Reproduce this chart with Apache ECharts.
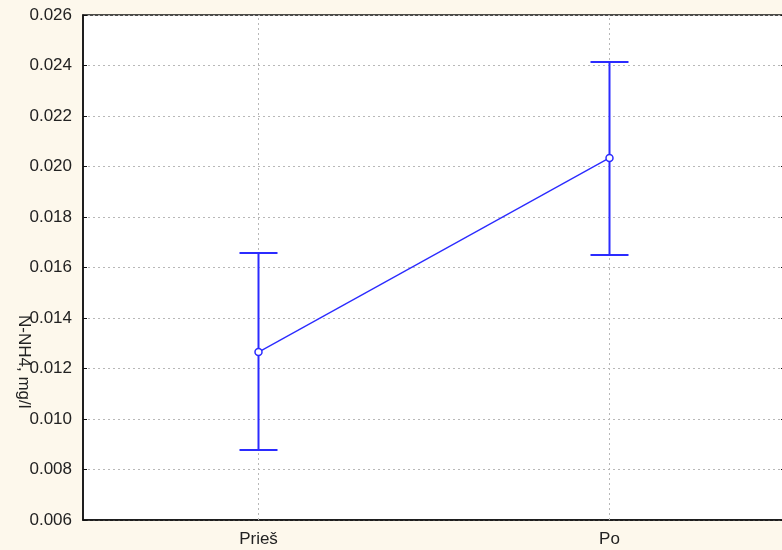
<!DOCTYPE html>
<html><head><meta charset="utf-8">
<script src="https://cdn.jsdelivr.net/npm/echarts@6/dist/echarts.min.js"></script>
<style>html,body{margin:0;padding:0;background:#fdf8ec;}#c{width:782px;height:550px;}</style>
</head><body><div id="c"></div>
<script>
var categories = ['Prieš', 'Po'];
var means = [0.01265, 0.02034];
var lowers = [0.00877, 0.0165];
var uppers = [0.01657, 0.02414];
var yMin = 0.006, yMax = 0.026, yStep = 0.002;
var yTitle = 'N-NH4, mg/l';

var chart = echarts.init(document.getElementById('c'));
var blue = '#2b2bff';
var font = 'Liberation Sans, Arial';
var gridLine = {show: true, lineStyle: {color: '#b8b8b8', type: [2, 3], width: 1}};
chart.setOption({
  backgroundColor: '#fdf8ec',
  animation: false,
  grid: {left: 83, top: 15, width: 702, bottom: 30, outerBoundsMode: 'none', containLabel: false,
    show: true, backgroundColor: '#fff', borderColor: '#111', borderWidth: 1.5},
  xAxis: [{
    type: 'category', data: categories, boundaryGap: true,
    axisLine: {show: true, lineStyle: {color: '#111', width: 1.5}},
    axisTick: {show: false},
    axisLabel: {color: '#222', fontFamily: font, fontSize: 17, margin: 11, interval: 0},
    splitLine: {show: false}
  }],
  yAxis: [{
    type: 'value', min: yMin, max: yMax, interval: yStep,
    axisLine: {show: true, lineStyle: {color: '#111', width: 1.5}},
    axisTick: {show: true, inside: true, length: 4, lineStyle: {color: '#111'}},
    axisLabel: {color: '#222', fontFamily: font, fontSize: 17, margin: 11,
      formatter: function (v) { return v.toFixed(3); }},
    splitLine: gridLine
  }, {
    type: 'value', position: 'right', min: yMin, max: yMax, interval: yStep,
    axisLine: {show: false}, axisLabel: {show: false}, splitLine: {show: false},
    axisTick: {show: true, inside: true, length: 4, lineStyle: {color: '#111'}}
  }],
  graphic: [{
    type: 'text', left: 15, top: 315, rotation: -Math.PI / 2,
    style: {text: yTitle, fill: '#222', font: '17px "Liberation Sans", Arial'}
  }],
  series: [{
    type: 'custom',
    renderItem: function (params, api) {
      var x = api.value(0);
      var s = api.coord([x, yMin]);
      var e = api.coord([x, yMax]);
      return {type: 'line', shape: {x1: s[0], y1: s[1], x2: e[0], y2: e[1]},
        style: {stroke: '#b8b8b8', lineWidth: 1, lineDash: [2, 3]}, silent: true};
    },
    data: categories.map(function (c, i) { return [i]; }),
    z: 1
  }, {
    type: 'custom',
    renderItem: function (params, api) {
      var lo = api.coord([api.value(0), api.value(1)]);
      var hi = api.coord([api.value(0), api.value(2)]);
      var hw = 19;
      var st = {stroke: blue, lineWidth: 2};
      return {type: 'group', children: [
        {type: 'line', shape: {x1: lo[0], y1: lo[1], x2: hi[0], y2: hi[1]}, style: st},
        {type: 'line', shape: {x1: lo[0] - hw, y1: lo[1], x2: lo[0] + hw, y2: lo[1]}, style: st},
        {type: 'line', shape: {x1: hi[0] - hw, y1: hi[1], x2: hi[0] + hw, y2: hi[1]}, style: st}
      ]};
    },
    data: categories.map(function (c, i) { return [i, lowers[i], uppers[i]]; }),
    z: 3
  }, {
    type: 'line', data: means,
    lineStyle: {color: blue, width: 1.3},
    symbol: 'circle', symbolSize: 7, showSymbol: true,
    itemStyle: {color: '#fff', borderColor: blue, borderWidth: 1.5},
    z: 5
  }]
});
</script></body></html>
